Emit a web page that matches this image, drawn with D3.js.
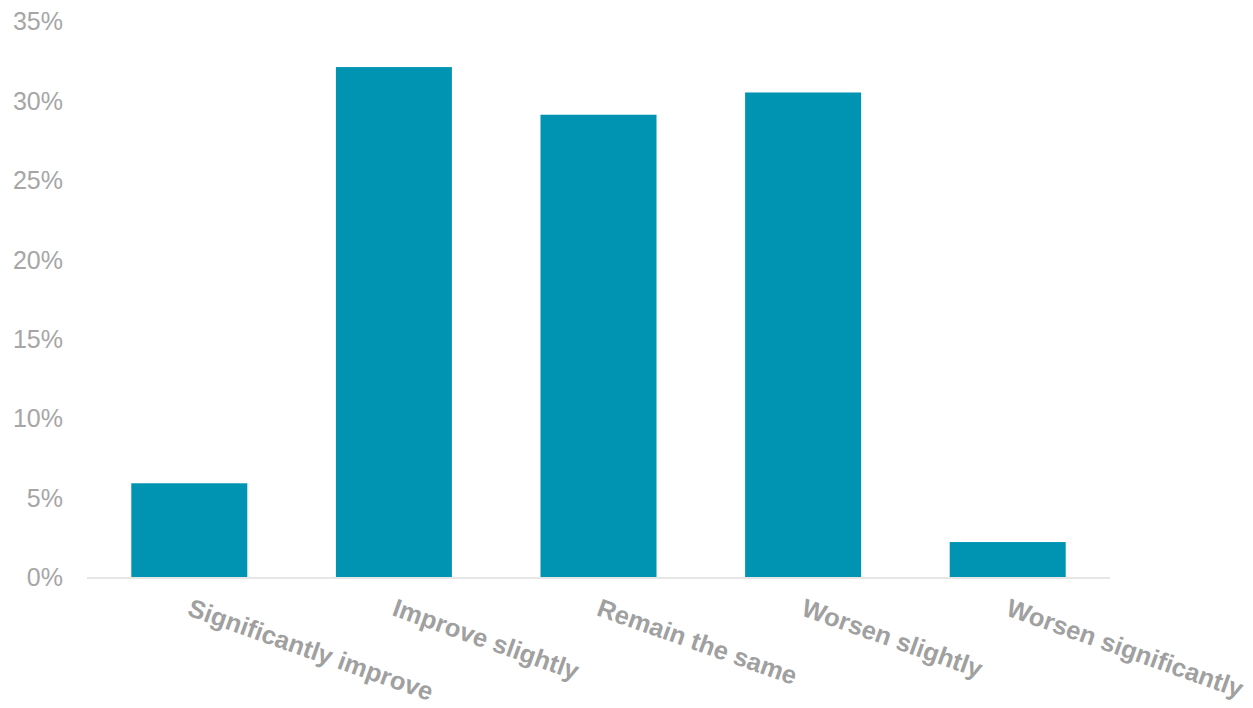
<!DOCTYPE html>
<html>
<head>
<meta charset="utf-8">
<script src="https://cdn.jsdelivr.net/npm/d3@7"></script>
<style>
  html, body { margin: 0; padding: 0; background: #fff; }
  svg { display: block; }
</style>
</head>
<body>
<svg id="chart" width="1253" height="708"></svg>
<script>
// Survey responses: expected change
const categories = ["Significantly improve", "Improve slightly", "Remain the same", "Worsen slightly", "Worsen significantly"];
const shares = [5.9, 32.1, 29.1, 30.5, 2.2];
const yTicks = [0, 5, 10, 15, 20, 25, 30, 35];

const svg = d3.select("#chart");
const plotLeft = 87, plotRight = 1110, plotTop = 21, plotBottom = 577;

const x = d3.scaleBand().domain(categories).range([plotLeft, plotRight]).paddingInner(0.433).paddingOuter(0.2165);
const y = d3.scaleLinear().domain([0, 35]).range([plotBottom, plotTop]);

// y-axis tick labels (no axis line or gridlines)
const yAxis = d3.axisLeft(y).tickValues(yTicks).tickFormat(d => d + "%").tickSize(0).tickPadding(0);
const gy = svg.append("g").attr("transform", "translate(63,0)").call(yAxis);
gy.select(".domain").remove();
gy.selectAll("text")
  .attr("fill", "#a6a6a6")
  .attr("font-family", "'Liberation Sans', Arial, sans-serif")
  .attr("font-size", 25)
  .attr("dy", "0.35em");

// bars
svg.append("g").selectAll("rect")
  .data(categories.map((c, i) => ({ c, v: shares[i] })))
  .join("rect")
  .attr("x", d => x(d.c))
  .attr("width", x.bandwidth())
  .attr("y", d => y(d.v))
  .attr("height", d => y(0) - y(d.v))
  .attr("fill", "#0094b3");

// baseline
svg.append("line")
  .attr("x1", plotLeft).attr("x2", plotRight)
  .attr("y1", y(0) + 1).attr("y2", y(0) + 1)
  .attr("stroke", "#e6e6e6").attr("stroke-width", 2);

// rotated category labels
const xAxis = d3.axisBottom(x).tickSize(0).tickPadding(0);
const gx = svg.append("g").attr("transform", `translate(0,${plotBottom})`).call(xAxis);
gx.select(".domain").remove();
gx.selectAll(".tick text")
  .attr("fill", "#a0a0a0")
  .attr("font-family", "'Liberation Sans', Arial, sans-serif")
  .attr("font-weight", "bold")
  .attr("font-size", 25.5)
  .attr("text-anchor", "start")
  .attr("y", 0)
  .attr("dy", 0)
  .attr("transform", "translate(-3,38) rotate(19.5)");
</script>
</body>
</html>
